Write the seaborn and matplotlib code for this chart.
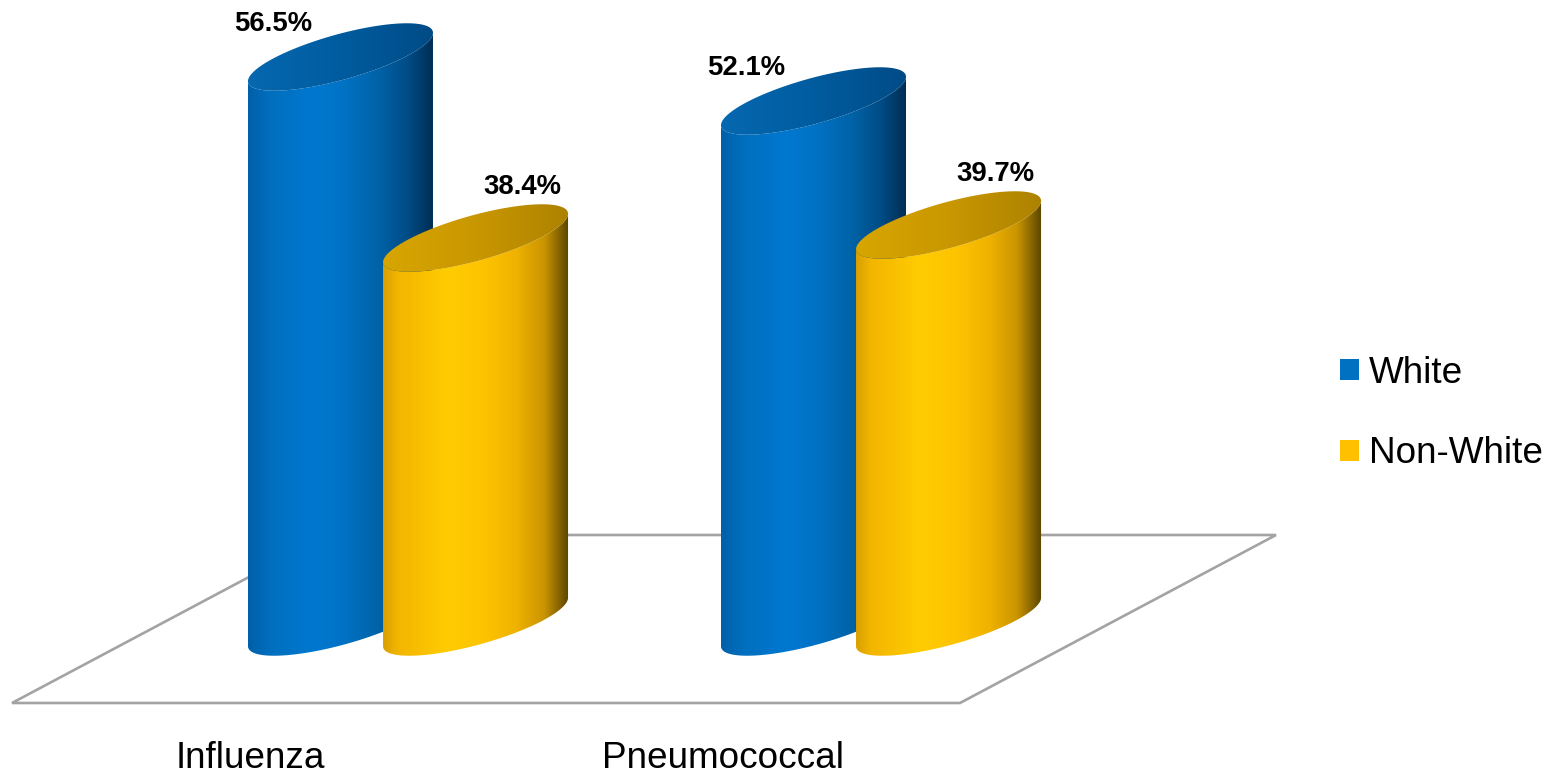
import numpy as np
import pandas as pd
import matplotlib
matplotlib.use("Agg")
import matplotlib.pyplot as plt
from matplotlib.colors import LinearSegmentedColormap
from matplotlib.patches import Polygon, Patch
import seaborn as sns

# Vaccination rates (%) by race
vaccines = ["Influenza", "Pneumococcal"]
races = ["White", "Non-White"]
white_rates = [56.5, 52.1]
nonwhite_rates = [38.4, 39.7]

df = pd.DataFrame({
    "vaccine": vaccines * 2,
    "race": [races[0]] * 2 + [races[1]] * 2,
    "rate": white_rates + nonwhite_rates,
})

sns.set_theme(style="white")
plt.rcParams["font.family"] = ["Liberation Sans", "DejaVu Sans"]

fig = plt.figure(figsize=(15.61, 7.75), dpi=100)
ax = fig.add_axes([0, 0, 1, 1])

palette = {"White": "#0070C0", "Non-White": "#FFC000"}
sns.barplot(data=df, x="vaccine", y="rate", hue="race", order=vaccines,
            hue_order=races, palette=palette, width=0.571, ax=ax,
            legend=False, errorbar=None)

XLIM = (-0.8626, 2.4376)
YLIM = (-15.3, 62.2)

# cylinder styling (data units)
R_SCALE = 1.37      # cylinder radius relative to half bar width
RY = 2.35           # vertical half-axis of the end ellipses
SHEAR = 2.42        # tilt of the end ellipses

body_cmaps = {
    "White": LinearSegmentedColormap.from_list("wb", [
        (0.0, "#0060aa"), (0.12, "#006fbe"), (0.35, "#0078d0"),
        (0.5, "#0073c6"), (0.7, "#0063a8"), (0.86, "#004c86"), (1.0, "#002d52")]),
    "Non-White": LinearSegmentedColormap.from_list("yb", [
        (0.0, "#d9a000"), (0.08, "#f3b600"), (0.35, "#ffcc00"),
        (0.55, "#fdc300"), (0.72, "#efb200"), (0.87, "#c99400"), (1.0, "#5a4400")]),
}
top_cmaps = {
    "White": LinearSegmentedColormap.from_list("wt", ["#0668b0", "#005c9f", "#004b86"]),
    "Non-White": LinearSegmentedColormap.from_list("yt", ["#d8a600", "#c99700", "#ad8200"]),
}
label_offsets = {"White": (-67, 33), "Non-White": (47, 51)}

grad = np.linspace(0, 1, 256).reshape(1, -1)


def ellipse_pts(cx, cy, r, t):
    return cx + r * np.cos(t), cy + RY * np.sin(t) + SHEAR * np.cos(t)


def draw_cylinder(cx, r, h, race, z):
    tb = np.linspace(np.pi, 2 * np.pi, 120)
    bx, by = ellipse_pts(cx, 0.0, r, tb)
    tt = np.linspace(2 * np.pi, np.pi, 120)
    tx, ty = ellipse_pts(cx, h, r, tt)
    body = Polygon(np.column_stack([np.r_[bx, tx], np.r_[by, ty]]),
                   closed=True, transform=ax.transData)
    im = ax.imshow(grad, cmap=body_cmaps[race], aspect="auto",
                   extent=[cx - r, cx + r, -RY - SHEAR - 1, h + RY + SHEAR + 1],
                   zorder=z, interpolation="bilinear")
    im.set_clip_path(body)

    ta = np.linspace(0, 2 * np.pi, 240)
    ex, ey = ellipse_pts(cx, h, r, ta)
    top = Polygon(np.column_stack([ex, ey]), closed=True, transform=ax.transData)
    im2 = ax.imshow(grad, cmap=top_cmaps[race], aspect="auto",
                    extent=[cx - r, cx + r, h - RY - SHEAR - 1, h + RY + SHEAR + 1],
                    zorder=z + 0.1, interpolation="bilinear")
    im2.set_clip_path(top)


# floor of the 3D plot
floor_front, floor_back = -8.1, 8.7
fx0, fx1, shift = (12 - 408) / 473, (960 - 408) / 473, 316 / 473
ax.plot([fx0 + shift, fx0, fx1, fx1 + shift, fx0 + shift],
        [floor_back, floor_front, floor_front, floor_back, floor_back],
        color="#a3a3a3", lw=1.9, zorder=0.5, solid_joinstyle="miter")

# replace each seaborn bar with a shaded cylinder
bars = list(ax.patches)
for i, bar in enumerate(bars):
    race = races[i // len(vaccines)]
    cx = bar.get_x() + bar.get_width() / 2
    h = bar.get_height()
    r = bar.get_width() / 2 * R_SCALE
    bar.set_visible(False)
    z = 2 + (i // len(vaccines))
    draw_cylinder(cx, r, h, race, z)
    ax.annotate(f"{h:.1f}%", xy=(cx, h), xytext=label_offsets[race],
                textcoords="offset pixels", ha="center", va="center",
                fontsize=19.8, fontweight="bold", color="black", zorder=10)

# category labels along the front edge of the floor
for i, name in enumerate(vaccines):
    ax.text(i - 0.334, -13.6, name, ha="center", va="center",
            fontsize=26.6, color="black")

handles = [Patch(facecolor=palette[r], edgecolor="none", label=r) for r in races]
fig.legend(handles=handles, loc="center left", bbox_to_anchor=(0.8584, 0.4664),
           frameon=False, fontsize=26.6, handlelength=0.51, handleheight=0.51,
           handletextpad=0.27, labelspacing=1.24, borderpad=0, borderaxespad=0,
           labelcolor="black")

ax.set_xlim(*XLIM)
ax.set_ylim(*YLIM)
ax.axis("off")

fig.savefig("out.png", dpi=100, facecolor="white")
